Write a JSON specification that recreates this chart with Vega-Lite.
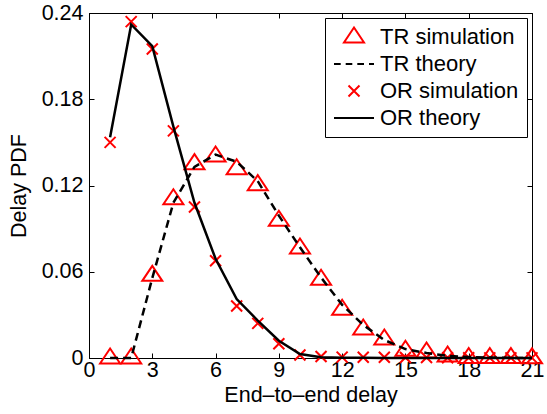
{
  "$schema": "https://vega.github.io/schema/vega-lite/v6.json",
  "width": 443,
  "height": 345,
  "autosize": {"type": "none"},
  "padding": {"left": 89, "top": 13, "right": 15, "bottom": 56},
  "background": "white",
  "config": {
    "view": {"stroke": "black", "strokeWidth": 1},
    "font": "Liberation Sans",
    "axis": {
      "labelFont": "Liberation Sans",
      "labelFontSize": 21.5,
      "labelColor": "black",
      "titleFont": "Liberation Sans",
      "titleFontSize": 21.5,
      "titleFontWeight": "normal",
      "titleColor": "black",
      "domainColor": "black",
      "tickColor": "black",
      "grid": false
    }
  },
  "datasets": {
    "pts": [
      {"x": 1, "y": 0, "series": "TR simulation"},
      {"x": 2, "y": 0, "series": "TR simulation"},
      {"x": 3, "y": 0.0575, "series": "TR simulation"},
      {"x": 4, "y": 0.1108, "series": "TR simulation"},
      {"x": 5, "y": 0.1352, "series": "TR simulation"},
      {"x": 6, "y": 0.1405, "series": "TR simulation"},
      {"x": 7, "y": 0.1317, "series": "TR simulation"},
      {"x": 8, "y": 0.1206, "series": "TR simulation"},
      {"x": 9, "y": 0.0958, "series": "TR simulation"},
      {"x": 10, "y": 0.0765, "series": "TR simulation"},
      {"x": 11, "y": 0.0548, "series": "TR simulation"},
      {"x": 12, "y": 0.0339, "series": "TR simulation"},
      {"x": 13, "y": 0.0202, "series": "TR simulation"},
      {"x": 14, "y": 0.0132, "series": "TR simulation"},
      {"x": 15, "y": 0.0054, "series": "TR simulation"},
      {"x": 16, "y": 0.0042, "series": "TR simulation"},
      {"x": 17, "y": 0.0014, "series": "TR simulation"},
      {"x": 18, "y": 0.0003, "series": "TR simulation"},
      {"x": 19, "y": 0.0003, "series": "TR simulation"},
      {"x": 20, "y": 0.0003, "series": "TR simulation"},
      {"x": 21, "y": 0.0001, "series": "TR simulation"},
      {"x": 1, "y": 0.150, "series": "OR simulation"},
      {"x": 2, "y": 0.234, "series": "OR simulation"},
      {"x": 3, "y": 0.215, "series": "OR simulation"},
      {"x": 4, "y": 0.158, "series": "OR simulation"},
      {"x": 5, "y": 0.105, "series": "OR simulation"},
      {"x": 6, "y": 0.0677, "series": "OR simulation"},
      {"x": 7, "y": 0.0362, "series": "OR simulation"},
      {"x": 8, "y": 0.0241, "series": "OR simulation"},
      {"x": 9, "y": 0.0099, "series": "OR simulation"},
      {"x": 10, "y": 0.0021, "series": "OR simulation"},
      {"x": 11, "y": 0.0011, "series": "OR simulation"},
      {"x": 12, "y": 0.0006, "series": "OR simulation"},
      {"x": 13, "y": 0.0005, "series": "OR simulation"},
      {"x": 14, "y": 0.0005, "series": "OR simulation"},
      {"x": 15, "y": 0.0004, "series": "OR simulation"},
      {"x": 16, "y": 0.0003, "series": "OR simulation"},
      {"x": 17, "y": 0.0002, "series": "OR simulation"},
      {"x": 18, "y": 0.0002, "series": "OR simulation"},
      {"x": 19, "y": 0.0001, "series": "OR simulation"},
      {"x": 20, "y": 0.0001, "series": "OR simulation"},
      {"x": 21, "y": 0.0001, "series": "OR simulation"}
    ],
    "tr": [
      {"x": 1, "y": 0}, {"x": 2, "y": 0}, {"x": 3, "y": 0.0556}, {"x": 4, "y": 0.108},
      {"x": 5, "y": 0.133}, {"x": 6, "y": 0.1415}, {"x": 7, "y": 0.1365}, {"x": 8, "y": 0.123},
      {"x": 9, "y": 0.099}, {"x": 10, "y": 0.077}, {"x": 11, "y": 0.056}, {"x": 12, "y": 0.037},
      {"x": 13, "y": 0.023}, {"x": 14, "y": 0.0125}, {"x": 15, "y": 0.0062}, {"x": 16, "y": 0.0035},
      {"x": 17, "y": 0.0015}, {"x": 18, "y": 0.0007}, {"x": 19, "y": 0.0003}, {"x": 20, "y": 0.0001},
      {"x": 21, "y": 0}
    ],
    "or": [
      {"x": 1, "y": 0.1535}, {"x": 2, "y": 0.232}, {"x": 3, "y": 0.217}, {"x": 4, "y": 0.161},
      {"x": 5, "y": 0.108}, {"x": 6, "y": 0.069}, {"x": 7, "y": 0.041}, {"x": 8, "y": 0.026},
      {"x": 9, "y": 0.012}, {"x": 10, "y": 0.0028}, {"x": 11, "y": 0.0006}, {"x": 12, "y": 0.0002},
      {"x": 13, "y": 0.0001}, {"x": 14, "y": 0}, {"x": 15, "y": 0}, {"x": 16, "y": 0},
      {"x": 17, "y": 0}, {"x": 18, "y": 0}, {"x": 19, "y": 0}, {"x": 20, "y": 0}, {"x": 21, "y": 0}
    ]
  },
  "resolve": {"axis": {"x": "independent", "y": "independent"}},
  "layer": [
    {
      "data": {"name": "pts"},
      "mark": {"type": "point", "filled": false, "strokeWidth": 2, "size": 400, "opacity": 1, "clip": false},
      "encoding": {
        "x": {
          "field": "x", "type": "quantitative",
          "scale": {"domain": [0, 21], "nice": false, "zero": false},
          "axis": {"values": [0, 3, 6, 9, 12, 15, 18, 21], "tickSize": -5, "labelPadding": 6, "title": "End–to–end delay", "titlePadding": 4, "labelFlush": false}
        },
        "y": {
          "field": "y", "type": "quantitative",
          "scale": {"domain": [0, 0.24], "nice": false},
          "axis": {"values": [0, 0.06, 0.12, 0.18, 0.24], "format": ".2~f", "tickSize": -5, "labelPadding": 11, "title": "Delay PDF", "titlePadding": 11}
        },
        "shape": {
          "field": "series", "type": "nominal",
          "scale": {
            "domain": ["TR simulation", "TR theory", "OR simulation", "OR theory"],
            "range": ["M0,-0.95L1,0.55L-1,0.55Z", "M-2,0H-1.33M-0.83,0H-0.17M0.33,0H1M1.5,0H2", "M-0.55,-0.55L0.55,0.55M-0.55,0.55L0.55,-0.55", "M-2,0H2"]
          },
          "legend": {
            "title": null, "orient": "top-right", "offset": 5,
            "labelFont": "Liberation Sans", "labelFontSize": 22, "labelColor": "black",
            "symbolSize": 400, "symbolStrokeWidth": 2, "labelOffset": 15, "symbolOffset": 10,
            "strokeColor": "black", "fillColor": "white", "padding": 8, "rowPadding": 5
          }
        },
        "stroke": {
          "field": "series", "type": "nominal",
          "scale": {
            "domain": ["TR simulation", "TR theory", "OR simulation", "OR theory"],
            "range": ["#ff0000", "#000000", "#ff0000", "#000000"]
          },
          "legend": {
            "title": null, "orient": "top-right", "offset": 5,
            "labelFont": "Liberation Sans", "labelFontSize": 22, "labelColor": "black",
            "symbolSize": 400, "symbolStrokeWidth": 2, "labelOffset": 15, "symbolOffset": 10,
            "strokeColor": "black", "fillColor": "white", "padding": 8, "rowPadding": 5
          }
        }
      }
    },
    {
      "data": {"name": "tr"},
      "mark": {"type": "line", "color": "black", "strokeWidth": 2.5, "strokeDash": [8, 5]},
      "encoding": {
        "x": {"field": "x", "type": "quantitative", "axis": {"values": [0, 3, 6, 9, 12, 15, 18, 21], "tickSize": -5, "labels": false, "title": null, "orient": "top"}},
        "y": {"field": "y", "type": "quantitative", "axis": {"values": [0, 0.06, 0.12, 0.18, 0.24], "tickSize": -5, "labels": false, "title": null, "orient": "right"}}
      }
    },
    {
      "data": {"name": "or"},
      "mark": {"type": "line", "color": "black", "strokeWidth": 2.5},
      "encoding": {
        "x": {"field": "x", "type": "quantitative", "axis": null},
        "y": {"field": "y", "type": "quantitative", "axis": null}
      }
    }
  ]
}
